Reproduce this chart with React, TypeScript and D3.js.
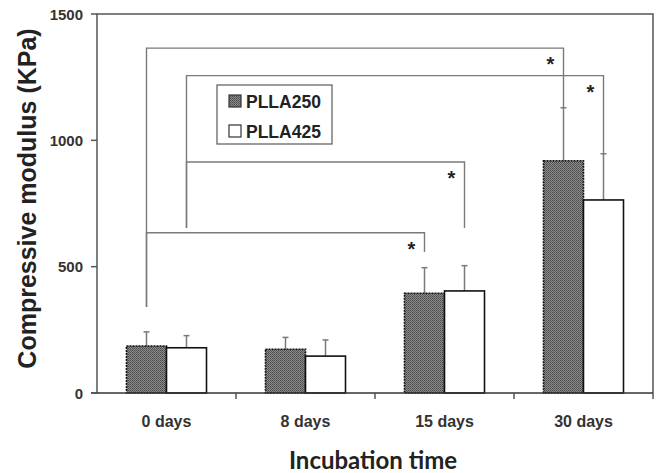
import React from "react";
import * as d3 from "d3";

const categories = ["0 days", "8 days", "15 days", "30 days"];
const seriesNames = ["PLLA250", "PLLA425"];
const plla250 = [186, 173, 395, 919];
const plla425 = [179, 146, 404, 764];
const err250 = [56, 47, 101, 210];
const err425 = [48, 64, 100, 183];
const yTicks = [0, 500, 1000, 1500];
// significance brackets: [leftCat, leftSeries, leftStart, level, rightCat, rightSeries, rightEnd]
const brackets: [number, number, number, number, number, number, number][] = [
  [0, 0, 340, 1365, 3, 0, 1129],
  [0, 1, 653, 1256, 3, 1, 947],
  [0, 1, 653, 914, 2, 1, 653],
  [0, 0, 340, 634, 2, 0, 558],
];

const W = 657;
const H = 473;
const left = 97, right = 653, top = 14, bottom = 393;

export default function App() {
  const x0 = d3.scaleBand<string>().domain(categories).range([left, right]).padding(0);
  const bw = x0.bandwidth();
  const groupW = 80;
  const x1 = d3
    .scaleBand<string>()
    .domain(seriesNames)
    .range([(bw - groupW) / 2, (bw + groupW) / 2])
    .padding(0);
  const y = d3.scaleLinear().domain([0, 1500]).range([bottom, top]);
  const values = [plla250, plla425];
  const errs = [err250, err425];
  const cx = (c: number, s: number) =>
    (x0(categories[c]) as number) + (x1(seriesNames[s]) as number) + x1.bandwidth() / 2;

  const font = "'Liberation Sans', Arial, sans-serif";
  const gray = "#7a7a7a";

  return (
    <svg
      width={W}
      height={H}
      style={{ position: "absolute", left: 0, top: 0, background: "#fff" }}
      fontFamily={font}
    >
      <defs>
        <pattern id="dots" width="2" height="2" patternUnits="userSpaceOnUse">
          <rect width="2" height="2" fill="#8c8c8c" />
          <rect width="1" height="1" fill="#4a4a4a" />
          <rect x="1" y="1" width="1" height="1" fill="#5a5a5a" />
        </pattern>
      </defs>
      <rect x={0} y={0} width={W} height={H} fill="#fff" />

      {/* brackets */}
      {brackets.map((b, i) => {
        const xl = cx(b[0], b[1]);
        const xr = cx(b[4], b[5]);
        const yl = y(b[2]);
        const yv = y(b[3]);
        const yr = y(b[6]);
        return (
          <g key={"br" + i}>
            <path
              d={`M${xl},${yl}V${yv}H${xr}V${yr}`}
              fill="none"
              stroke={gray}
              strokeWidth={1.4}
            />
            <text
              x={xr - 13}
              y={yv + 23}
              fontSize={20}
              fontWeight="bold"
              textAnchor="middle"
              fill="#222"
            >
              *
            </text>
          </g>
        );
      })}

      {/* bars */}
      {categories.map((c, ci) =>
        seriesNames.map((s, si) => {
          const v = values[si][ci];
          const bx = (x0(c) as number) + (x1(s) as number);
          const ex = cx(ci, si);
          const et = y(v + errs[si][ci]);
          return (
            <g key={c + s}>
              <line x1={ex} x2={ex} y1={y(v)} y2={et} stroke={gray} strokeWidth={1.5} />
              <line x1={ex - 3} x2={ex + 3} y1={et} y2={et} stroke={gray} strokeWidth={1.5} />
              <rect
                x={bx}
                y={y(v)}
                width={x1.bandwidth()}
                height={bottom - y(v)}
                fill={si === 0 ? "url(#dots)" : "#fff"}
                stroke="#111"
                strokeWidth={1.6}
                strokeDasharray={si === 0 ? "2,1" : undefined}
              />
            </g>
          );
        })
      )}

      {/* frame */}
      <path
        d={`M${left},${bottom}V${top}H${right}V${bottom}`}
        fill="none"
        stroke="#555"
        strokeWidth={1.5}
      />
      <line x1={left - 6} x2={right} y1={bottom} y2={bottom} stroke="#333" strokeWidth={1.5} />

      {/* y axis ticks */}
      {yTicks.map((t) => (
        <g key={"yt" + t}>
          <line x1={left - 6} x2={left} y1={y(t)} y2={y(t)} stroke="#555" strokeWidth={1.5} />
          <text
            x={left - 14}
            y={y(t) + 5.5}
            textAnchor="end"
            fontSize={15}
            fontWeight="bold"
            fill="#333"
          >
            {t}
          </text>
        </g>
      ))}

      {/* x ticks */}
      {categories.map((c, i) => (
        <g key={"xt" + c}>
          {i > 0 && (
            <line
              x1={x0(c) as number}
              x2={x0(c) as number}
              y1={bottom}
              y2={bottom + 6}
              stroke="#555"
              strokeWidth={1.5}
            />
          )}
          <text
            x={(x0(c) as number) + bw / 2}
            y={427}
            textAnchor="middle"
            fontSize={16}
            fontWeight="bold"
            fill="#333"
          >
            {c}
          </text>
        </g>
      ))}
      <line x1={right} x2={right} y1={bottom} y2={bottom + 6} stroke="#555" strokeWidth={1.5} />

      {/* legend */}
      <rect x={217} y={85} width={115} height={59} fill="#fff" stroke="#666" strokeWidth={1.3} />
      {seriesNames.map((s, i) => (
        <g key={"lg" + s}>
          <rect
            x={229}
            y={95 + i * 30}
            width={12}
            height={12}
            fill={i === 0 ? "url(#dots)" : "#fff"}
            stroke="#333"
            strokeWidth={1.2}
          />
          <text x={246} y={107.5 + i * 30} fontSize={17.5} fontWeight="bold" fill="#222">
            {s}
          </text>
        </g>
      ))}

      {/* axis titles */}
      <text
        transform={`translate(36,198.5) rotate(-90)`}
        textAnchor="middle"
        fontSize={25}
        fontWeight="bold"
        fill="#222"
      >
        Compressive modulus (KPa)
      </text>
      <text
        x={373}
        y={469}
        textAnchor="middle"
        fontSize={24}
        fontWeight="bold"
        fontFamily="Lato, sans-serif"
        fill="#222"
      >
        Incubation time
      </text>
    </svg>
  );
}
